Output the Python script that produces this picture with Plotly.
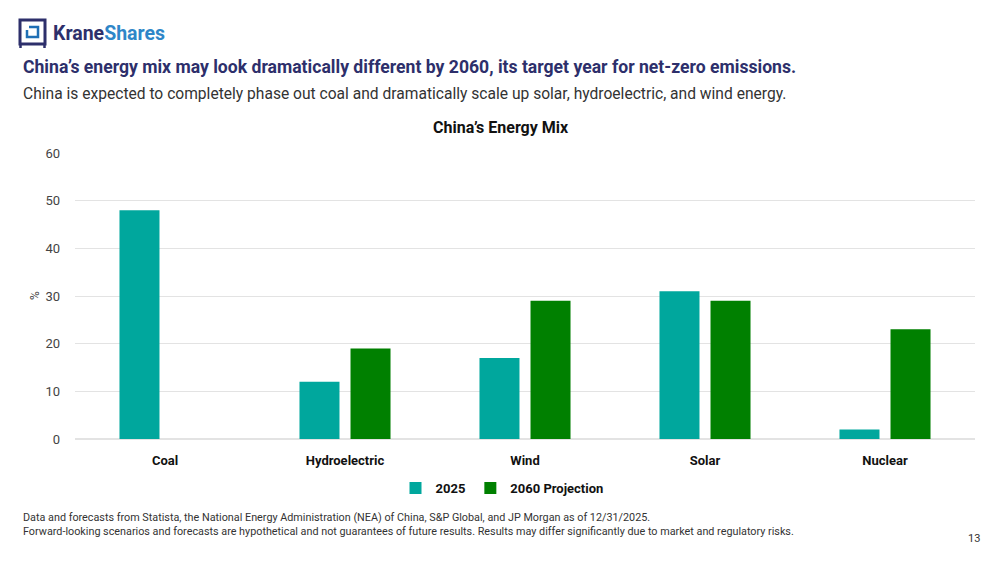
import plotly.graph_objects as go

# energy sources and their share of China's mix (%)
categories = ["Coal", "Hydroelectric", "Wind", "Solar", "Nuclear"]
share_2025 = [48, 12, 17, 31, 2]
share_2060 = [0, 19, 29, 29, 23]
y_ticks = [0, 10, 20, 30, 40, 50, 60]

NAVY = "#2d2f6b"
BLUE = "#2e86c8"
TEAL = "#00a79d"
GREEN = "#008000"
FONT = "Roboto"

# the page puts the figure 8px in from the top-left, so size it to fill the rest
W, H = 992, 555
L, R, T, B = 67, 25, 145, 124


def px(x):
    # page pixel x -> paper x
    return (x - 8 - L) / (W - L - R)


def py(y):
    # page pixel y -> paper y
    return (H - B - (y - 8)) / (H - T - B)


fig = go.Figure()
fig.add_trace(go.Bar(x=categories, y=share_2025, name="2025",
                     marker=dict(color=TEAL, line=dict(width=0))))
fig.add_trace(go.Bar(x=categories, y=share_2060, name="2060 Projection",
                     marker=dict(color=GREEN, line=dict(width=0))))

fig.update_layout(
    width=W, height=H,
    margin=dict(l=L, r=R, t=T, b=B, autoexpand=False),
    paper_bgcolor="white", plot_bgcolor="white",
    font=dict(family=FONT, color="#333333"),
    barmode="group", bargap=0.433, bargroupgap=0.216,
    showlegend=True,
    legend=dict(orientation="h", x=px(502), xanchor="center", y=py(488), yanchor="middle",
                font=dict(size=13, color="#111111", family=FONT, weight="bold"),
                itemwidth=30, traceorder="normal"),
)

fig.update_xaxes(showgrid=False, showline=False, ticks="", automargin=False,
                 ticklabelstandoff=12,
                 tickfont=dict(size=13, color="#111111", family=FONT, weight="bold"))
fig.update_yaxes(range=[0, 60], tickvals=y_ticks, showgrid=True, gridcolor="#e3e3e3",
                 gridwidth=1, zeroline=True, zerolinecolor="#e3e3e3", showline=False,
                 automargin=False, tickfont=dict(size=13, color="#444444"),
                 ticklabelstandoff=14)

# y axis title
fig.add_annotation(text="%", xref="paper", yref="paper", x=px(35), y=py(296),
                   xanchor="center", yanchor="middle",
                   textangle=-90, showarrow=False, font=dict(size=12, color="#444444"))

# chart title
fig.add_annotation(text="<b>China’s Energy Mix</b>", xref="paper", yref="paper",
                   x=px(501), y=py(128), xanchor="center", yanchor="middle", showarrow=False,
                   font=dict(size=16, color="#111111", family=FONT))

# logo
fig.add_shape(type="rect", xref="paper", yref="paper", x0=px(20), x1=px(45),
              y0=py(44), y1=py(20), line=dict(color=NAVY, width=3), fillcolor="white")
fig.add_shape(type="line", xref="paper", yref="paper", x0=px(20.5), x1=px(20.5),
              y0=py(44), y1=py(48), line=dict(color=NAVY, width=2.5))
fig.add_shape(type="line", xref="paper", yref="paper", x0=px(44.5), x1=px(44.5),
              y0=py(44), y1=py(48), line=dict(color=NAVY, width=2.5))
fig.add_shape(type="path", xref="paper", yref="paper",
              path=f"M {px(29)},{py(27)} L {px(38)},{py(27)} L {px(38)},{py(37)} "
                   f"L {px(27)},{py(37)} L {px(27)},{py(30)}",
              line=dict(color="#1f6fb5", width=2.5))
fig.add_annotation(text="<b>Krane</b><b style='color:#2e86c8'>Shares</b>", xref="paper",
                   yref="paper", x=px(51), y=py(33), xanchor="left", yanchor="middle",
                   showarrow=False, font=dict(size=19.5, color=NAVY, family=FONT))

# headline and subtitle
fig.add_annotation(text="<b>China’s energy mix may look dramatically different by 2060, its target year for net-zero emissions.</b>",
                   xref="paper", yref="paper", x=px(21), y=py(67), xanchor="left", yanchor="middle",
                   showarrow=False, font=dict(size=17.6, color=NAVY, family=FONT))
fig.add_annotation(text="China is expected to completely phase out coal and dramatically scale up solar, hydroelectric, and wind energy.",
                   xref="paper", yref="paper", x=px(21), y=py(94), xanchor="left", yanchor="middle",
                   showarrow=False, font=dict(size=15.6, color="#333333", family=FONT))

# footnotes
fig.add_annotation(text="Data and forecasts from Statista, the National Energy Administration (NEA) of China, S&P Global, and JP Morgan as of 12/31/2025.<br>"
                        "Forward-looking scenarios and forecasts are hypothetical and not guarantees of future results. Results may differ significantly due to market and regulatory risks.",
                   xref="paper", yref="paper", x=px(21), y=py(524), xanchor="left", yanchor="middle",
                   align="left", showarrow=False,
                   font=dict(size=10.8, color="#333333", family=FONT))
fig.add_annotation(text="13", xref="paper", yref="paper", x=px(982), y=py(538),
                   xanchor="right", yanchor="middle", showarrow=False,
                   font=dict(size=11, color="#333333", family=FONT))

fig.write_html("out.html")
